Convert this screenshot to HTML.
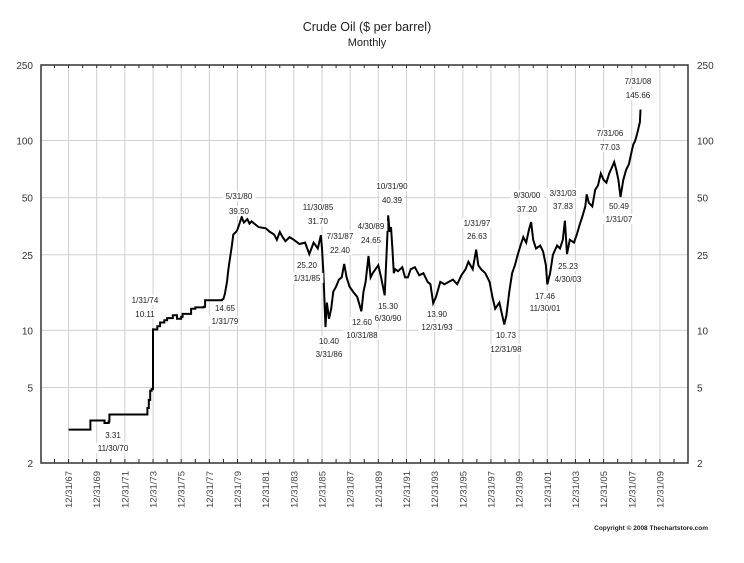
<!DOCTYPE html>
<html><head><meta charset="utf-8"><style>
html,body{margin:0;padding:0;background:#fff;}
svg{display:block;font-family:"Liberation Sans",Arial,sans-serif;}
</style></head><body>
<svg id="chart" width="744" height="563" viewBox="0 0 744 563" xmlns="http://www.w3.org/2000/svg">
<text x="367" y="31" font-size="12.5" text-anchor="middle" fill="#222">Crude Oil ($ per barrel)</text>
<text x="367" y="46" font-size="11" text-anchor="middle" fill="#222">Monthly</text>
<g id="grid"></g>
<g id="series"></g>
<g id="labels"></g>
<g id="axes"></g>
<text x="708" y="530" font-size="6.5" font-weight="bold" text-anchor="end" fill="#222">Copyright © 2008 Thechartstore.com</text>
</svg>
<script>
const yTicks = [250, 100, 50, 25, 10, 5, 2];
const xTickYears = [1968,1970,1972,1974,1976,1978,1980,1982,1984,1986,1988,1990,1992,1994,1996,1998,2000,2002,2004,2006,2008,2010];
const xTickLabels = ["12/31/67","12/31/69","12/31/71","12/31/73","12/31/75","12/31/77","12/31/79","12/31/81","12/31/83","12/31/85","12/31/87","12/31/89","12/31/91","12/31/93","12/31/95","12/31/97","12/31/99","12/31/01","12/31/03","12/31/05","12/31/07","12/31/09"];
const dates = [1968.0,1969.5,1969.55,1970.5,1970.55,1970.85,1970.9,1973.5,1973.6,1973.7,1973.8,1973.9,1974.0,1974.1,1974.3,1974.5,1974.8,1975.0,1975.4,1975.7,1976.0,1976.1,1976.6,1976.7,1977.0,1977.6,1977.7,1978.0,1978.9,1979.0,1979.1,1979.25,1979.35,1979.5,1979.6,1979.7,1979.9,1980.0,1980.3,1980.45,1980.7,1980.85,1981.0,1981.5,1982.0,1982.3,1982.6,1982.8,1983.0,1983.2,1983.4,1983.7,1984.0,1984.4,1984.8,1985.1,1985.4,1985.7,1985.92,1986.0,1986.1,1986.25,1986.35,1986.5,1986.65,1986.8,1987.0,1987.2,1987.4,1987.58,1987.75,1987.95,1988.2,1988.5,1988.8,1988.95,1989.1,1989.3,1989.45,1989.6,1989.8,1990.0,1990.2,1990.45,1990.6,1990.7,1990.8,1990.9,1991.0,1991.1,1991.2,1991.4,1991.7,1991.9,1992.1,1992.3,1992.6,1992.9,1993.2,1993.5,1993.7,1993.9,1994.1,1994.4,1994.7,1995.0,1995.3,1995.6,1995.9,1996.2,1996.4,1996.7,1996.95,1997.1,1997.3,1997.6,1997.9,1998.1,1998.3,1998.6,1998.8,1998.95,1999.1,1999.3,1999.5,1999.7,1999.9,2000.1,2000.3,2000.5,2000.7,2000.85,2001.0,2001.2,2001.5,2001.7,2001.9,2002.0,2002.2,2002.4,2002.7,2002.9,2003.1,2003.25,2003.4,2003.6,2003.9,2004.1,2004.3,2004.5,2004.7,2004.8,2004.95,2005.2,2005.4,2005.6,2005.8,2006.0,2006.2,2006.4,2006.58,2006.75,2006.9,2007.05,2007.2,2007.4,2007.6,2007.8,2007.95,2008.1,2008.25,2008.4,2008.58,2008.62];
const prices = [3.0,3.0,3.35,3.35,3.25,3.31,3.6,3.6,3.9,4.3,4.8,4.9,10.11,10.1,10.5,11.0,11.3,11.6,12.0,11.5,11.8,12.2,12.2,13.0,13.2,13.3,14.4,14.4,14.5,14.65,15.5,18,21,25,28,32,33,34,39.5,37,38.5,36.5,37.5,35,34.5,33,32,30,33,31,29.5,31,30,28.5,29,25.2,29,27,31.7,27,20,10.4,14,11.5,13,16,17,18.5,19,22.4,19,17,16,15,12.6,16,18,24.65,19,20,21,22,19,15.3,27,40.39,33,35,27,20,21,20.5,21.5,19,19,21,21.5,19.5,20,18,17.5,13.9,15,18,17.5,18,18.5,17.5,19.5,21,23,21,26.63,22,21,20,18,15,13,14,12,10.73,12,16,20,22,25,28,31,29,34,37.2,30,27,28,26,22,17.46,20,25,28,27,30,37.83,25.23,30,29,32,36,40,45,52,47,45,55,58,67,62,60,67,72,77.03,70,62,50.49,62,70,75,85,95,100,110,125,145.66,120];
const annotations = [["5/31/80",239,199],["39.50",239,214],["11/30/85",318,210],["31.70",318,224],["7/31/87",340,239],["22.40",340,253],["4/30/89",371,229],["24.65",371,243],["25.20",307,268],["1/31/85",307,281],["1/31/74",145,303],["10.11",145,317],["14.65",225,311],["1/31/79",225,324],["10.40",329,344],["3/31/86",329,357],["12.60",362,325],["10/31/88",362,338],["15.30",388,309],["6/30/90",388,321],["10/31/90",392,189],["40.39",392,203],["1/31/97",477,226],["26.63",477,239],["13.90",437,317],["12/31/93",437,330],["10.73",506,338],["12/31/98",506,352],["9/30/00",527,198],["37.20",527,212],["3/31/03",563,196],["37.83",563,209],["25.23",568,269],["4/30/03",568,282],["17.46",545,299],["11/30/01",545,311],["7/31/06",610,136],["77.03",610,150],["50.49",619,209],["1/31/07",619,222],["7/31/08",638,84],["145.66",638,98],["3.31",113,438],["11/30/70",113,451]];

const L=41,R=688,T=65,B=463;
const NS='http://www.w3.org/2000/svg';
function xs(t){return 322+(t-1986.0)*14.08;}
function ys(v){return T+(Math.log10(250)-Math.log10(v))/(Math.log10(250)-Math.log10(2))*(B-T);}
function mk(tag,attrs,parent){const e=document.createElementNS(NS,tag);for(const k in attrs)e.setAttribute(k,attrs[k]);parent.appendChild(e);return e;}
const grid=document.getElementById('grid'),axes=document.getElementById('axes'),ser=document.getElementById('series'),lab=document.getElementById('labels');
yTicks.forEach(v=>{
  const y=ys(v);
  if(v!==250&&v!==2){const g=mk('line',{x1:L,x2:R,y1:y,y2:y,stroke:'#d0d0d0','stroke-width':1},grid);
  
  }
  const a=mk('text',{x:33,y:y+4,'font-size':10,'text-anchor':'end',fill:'#333'},axes);a.textContent=v;
  
  
  const b=mk('text',{x:697,y:y+4,'font-size':10,'text-anchor':'start',fill:'#333'},axes);b.textContent=v;
  
  
});
xTickYears.forEach((t,i)=>{
  const x=xs(t);
  if(x>L&&x<R){const g=mk('line',{x1:x,x2:x,y1:T,y2:B,stroke:'#d0d0d0','stroke-width':1},grid);
  
  }
  const tx=mk('text',{x:0,y:0,'font-size':9.5,'text-anchor':'end',fill:'#444',transform:`translate(${x+3.5},${B+8}) rotate(-90)`},axes);
  tx.textContent=xTickLabels[i];
  
  
});
for(let yr=1967;yr<=2011;yr++){const x=xs(yr);if(x<=L+1||x>=R-1)continue;
  mk('line',{x1:x,x2:x,y1:B,y2:B-4,stroke:'#222','stroke-width':1},axes);
  mk('line',{x1:x,x2:x,y1:T,y2:T+3,stroke:'#222','stroke-width':1},axes);}
const fr=mk('rect',{x:L,y:T,width:R-L,height:B-T,fill:'none',stroke:'#333','stroke-width':1.5},axes);


let d='';
dates.forEach((t,i)=>{const x=xs(t).toFixed(1),y=ys(prices[i]).toFixed(1);
  if(i===0)d+=`M${x},${y}`;
  else if(t<1979.0){const py=ys(prices[i-1]).toFixed(1);d+=`L${x},${py}L${x},${y}`;}
  else d+=`L${x},${y}`;});
const p=mk('path',{d:d,fill:'none',stroke:'#000','stroke-width':2,'stroke-linejoin':'miter'},ser);


annotations.forEach(a=>{
  const w=a[0].length*4.4+2;
  mk('rect',{x:a[1]-w/2,y:a[2]-8,width:w,height:10,fill:'#fff'},lab);
  const t=mk('text',{x:a[1],y:a[2],'font-size':8,'text-anchor':'middle',fill:'#222'},lab);
  t.textContent=a[0];
  
  
});
</script>
</body></html>
